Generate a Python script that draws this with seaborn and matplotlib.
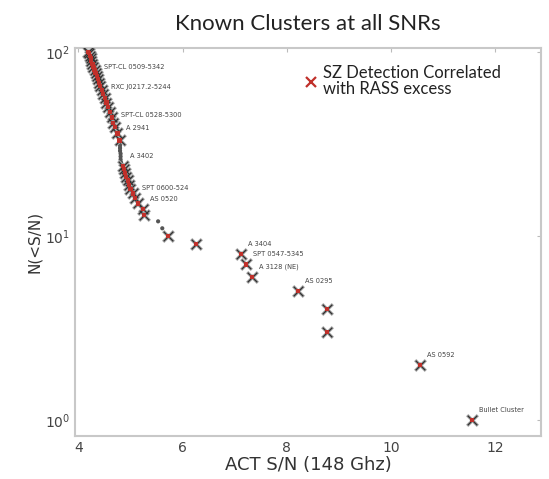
import numpy as np
import pandas as pd
import matplotlib
matplotlib.use("Agg")
import matplotlib.pyplot as plt
import seaborn as sns
from matplotlib.lines import Line2D
from matplotlib.ticker import LogLocator, LogFormatterMathtext, NullLocator

# ---- data ----
cum_count = list(range(1, 101))
act_sn = [11.55, 10.55, 8.77, 8.77, 8.21, 7.33, 7.22, 7.12, 6.26, 5.72,
          5.61, 5.53, 5.26, 5.24, 5.15, 5.09, 5.05, 5.00, 4.97, 4.95,
          4.92, 4.90, 4.87, 4.86, 4.82, 4.81, 4.81, 4.81, 4.80, 4.80,
          4.80, 4.80, 4.79, 4.78, 4.76, 4.75, 4.73, 4.72, 4.70, 4.69,
          4.67, 4.66, 4.65, 4.64, 4.62, 4.61, 4.60, 4.59, 4.58, 4.57,
          4.56, 4.55, 4.54, 4.53, 4.52, 4.51, 4.50, 4.49, 4.48, 4.47,
          4.46, 4.45, 4.44, 4.43, 4.42, 4.42, 4.41, 4.40, 4.39, 4.38,
          4.38, 4.37, 4.36, 4.35, 4.35, 4.34, 4.33, 4.33, 4.32, 4.31,
          4.30, 4.30, 4.29, 4.29, 4.28, 4.27, 4.27, 4.26, 4.25, 4.25,
          4.24, 4.24, 4.23, 4.22, 4.22, 4.21, 4.21, 4.20, 4.20, 4.19]
rass_flag = ([True] * 10 + [False, False] + [True] * 12 + [False] * 8 +
             [True, False, False, True, False, False, True, False, True, False,
              False, True, False, False, True, False, False, True, False, False,
              True, False, False, True, False, False, True, False, False, True,
              False, False, True, False, False, True, False, False, True, False,
              False, True, False, False, True, False, False, True, False, False,
              True, False, False, True, False, False, True, False, False, True,
              False, False, True, False, False, True, False, True])

label_names = ["Bullet Cluster", "AS 0592", "AS 0295", "A 3128 (NE)",
               "SPT 0547-5345", "A 3404", "AS 0520", "SPT 0600-524",
               "A 3402", "A 2941", "SPT-CL 0528-5300", "RXC J0217.2-5244",
               "SPT-CL 0509-5342"]
label_counts = [1, 2, 5, 6, 7, 8, 14, 16, 24, 34, 40, 57, 73]

title = "Known Clusters at all SNRs"
xlabel = "ACT S/N (148 Ghz)"
ylabel = "N(<S/N)"
legend_label = "SZ Detection Correlated\nwith RASS excess"

df = pd.DataFrame({"sn": act_sn, "n": cum_count, "rass": rass_flag})
df_r = df[df["rass"]]
df_dense = df[df["n"] >= 13]

sns.set_style("white")
fig = plt.figure(figsize=(5.49, 4.79), dpi=100)
ax = fig.add_axes([0.137, 0.090, 0.848, 0.810])

sns.lineplot(data=df_dense, x="sn", y="n", sort=False, estimator=None,
             color="#555555", lw=2.2, ax=ax, zorder=1)
sns.scatterplot(data=df, x="sn", y="n", marker="o", s=9, color="#555555",
                edgecolor="none", ax=ax, zorder=2)
sns.scatterplot(data=df_r, x="sn", y="n", marker="x", s=60, color="#b0b0b0",
                linewidth=2.4, ax=ax, zorder=3)
sns.scatterplot(data=df_r, x="sn", y="n", marker="x", s=48, color="#333333",
                linewidth=1.0, ax=ax, zorder=4)
sns.scatterplot(data=df_r, x="sn", y="n", marker="s", s=9, color="#c0302a",
                edgecolor="none", ax=ax, zorder=5)

for name, c in zip(label_names, label_counts):
    sx = act_sn[c - 1]
    ax.annotate(name, (sx, c), xytext=(5, 5), textcoords="offset points",
                fontsize=4.8, color="#444444", ha="left", va="bottom")

ax.set_yscale("log")
ax.set_xlim(3.94, 12.87)
ax.set_ylim(0.82, 105)
ax.set_xticks([4, 6, 8, 10, 12])
ax.yaxis.set_major_locator(LogLocator(base=10))
ax.yaxis.set_major_formatter(LogFormatterMathtext())
ax.yaxis.set_minor_locator(NullLocator())
ax.tick_params(axis="both", labelsize=10, labelcolor="#444444", length=3,
               color="#bbbbbb", direction="in", top=True, right=True)
for sp in ax.spines.values():
    sp.set_color("#c8c8c8")
    sp.set_linewidth(1.5)

ax.set_xlabel(xlabel, fontsize=13, color="#333333", labelpad=1)
ax.set_ylabel(ylabel, fontsize=11, color="#333333", labelpad=2)
ax.set_title(title, fontsize=16, family="Lato", color="#222222", pad=13)

handle = Line2D([], [], marker="x", color="#c0302a", linestyle="none",
                markersize=7, markeredgewidth=1.6)
leg = ax.legend([handle], [legend_label], loc="upper left",
                bbox_to_anchor=(0.46, 0.995), frameon=False,
                handlelength=0.8, handletextpad=0.3, labelspacing=0.2,
                prop={"family": "Lato", "size": 12})
for t in leg.get_texts():
    t.set_color("#222222")
    t.set_linespacing(1.05)

fig.savefig("out.png", dpi=100)
